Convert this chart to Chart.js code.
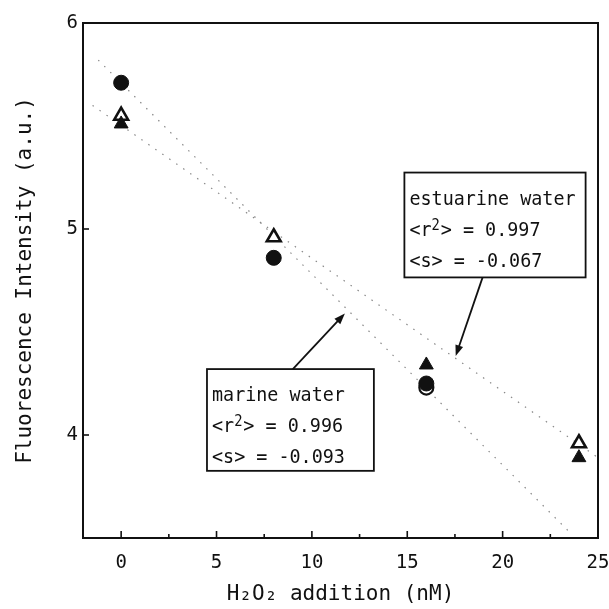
<!DOCTYPE html>
<html>
<head>
<meta charset="utf-8">
<script src="https://cdn.jsdelivr.net/npm/chart.js@4.4.1/dist/chart.umd.min.js"></script>
<style>
html, body { margin: 0; padding: 0; background: #fff; overflow: hidden; }
#wrap { position: relative; width: 609px; height: 609px; }
</style>
</head>
<body>
<div id="wrap"><canvas id="chart"></canvas></div>
<script>
// axis ticks
const xTicks = [0, 5, 10, 15, 20, 25];
const xMinorTicks = [2.5, 7.5, 12.5, 17.5, 22.5];
const yTicks = [4, 5, 6];

// marine water (circles)
const marineX = [0, 8, 16];
const marineFilled = [5.71, 4.86, 4.25];
const marineOpenX = [16];
const marineOpen = [4.23];

// estuarine water (triangles)
const estuarineOpenX = [0, 8, 24];
const estuarineOpen = [5.55, 4.96, 3.96];
const estuarineFilledX = [0, 16, 24];
const estuarineFilled = [5.51, 4.34, 3.89];

// regression lines
const marineFitX = [-1.2, 23.6];
const marineFit = [5.82, 3.52];
const estuarineFitX = [-1.5, 25];
const estuarineFit = [5.60, 3.89];

const FONT = "'DejaVu Sans Mono', monospace";

// text boxes (placed in data units)
const notes = [
    { lines: ["estuarine water", "<r\u00B2> = 0.997", "<s> = -0.067"],
      x0: 14.85, x1: 24.35, y0: 5.274, y1: 4.765,
      arrow: [18.95, 4.765, 17.54, 4.383] },
    { lines: ["marine water", "<r\u00B2> = 0.996", "<s> = -0.093"],
      x0: 4.5, x1: 13.25, y0: 4.32, y1: 3.826,
      arrow: [9.0, 4.32, 11.73, 4.59] }
];

const pts = (xs, ys) => xs.map((x, i) => ({ x: x, y: ys[i] }));

function drawArrow(ctx, x1, y1, x2, y2) {
    const a = Math.atan2(y2 - y1, x2 - x1);
    const len = 11, w = 4;
    ctx.beginPath();
    ctx.moveTo(x1, y1);
    ctx.lineTo(x2 - Math.cos(a) * len * 0.8, y2 - Math.sin(a) * len * 0.8);
    ctx.stroke();
    ctx.beginPath();
    ctx.moveTo(x2, y2);
    ctx.lineTo(x2 - Math.cos(a) * len - Math.sin(a) * w, y2 - Math.sin(a) * len + Math.cos(a) * w);
    ctx.lineTo(x2 - Math.cos(a) * len + Math.sin(a) * w, y2 - Math.sin(a) * len - Math.cos(a) * w);
    ctx.closePath();
    ctx.fill();
}

// narrow text with a raised "2" for the superscript
function drawNoteLine(ctx, s, x, y) {
    const sx = 0.92;
    ctx.save();
    ctx.translate(x, y);
    ctx.scale(sx, 1);
    let cx = 0;
    s.split(/(\u00B2)/).forEach(part => {
        if (!part) return;
        if (part === "\u00B2") {
            ctx.font = "15px " + FONT;
            ctx.fillText("2", cx, -6);
            cx += ctx.measureText("2").width + 1;
        } else {
            ctx.font = "20px " + FONT;
            ctx.fillText(part, cx, 0);
            cx += ctx.measureText(part).width;
        }
    });
    ctx.restore();
}

const framePlugin = {
    id: "frame",
    afterDatasetsDraw(chart) {
        const ctx = chart.ctx;
        const a = chart.chartArea;
        const xs = chart.scales.x, ys = chart.scales.y;
        ctx.save();
        ctx.strokeStyle = "#111";
        ctx.fillStyle = "#111";
        ctx.lineWidth = 2;
        ctx.strokeRect(a.left, a.top, a.right - a.left, a.bottom - a.top);

        // inward ticks
        ctx.lineWidth = 1.6;
        xTicks.forEach(v => {
            const px = xs.getPixelForValue(v);
            ctx.beginPath(); ctx.moveTo(px, a.bottom); ctx.lineTo(px, a.bottom - 7); ctx.stroke();
        });
        xMinorTicks.forEach(v => {
            const px = xs.getPixelForValue(v);
            ctx.beginPath(); ctx.moveTo(px, a.bottom); ctx.lineTo(px, a.bottom - 4); ctx.stroke();
        });
        yTicks.forEach(v => {
            const py = ys.getPixelForValue(v);
            ctx.beginPath(); ctx.moveTo(a.left, py); ctx.lineTo(a.left + 6, py); ctx.stroke();
        });

        // annotation boxes and arrows
        notes.forEach(n => {
            const l = xs.getPixelForValue(n.x0), r = xs.getPixelForValue(n.x1);
            const t = ys.getPixelForValue(n.y0), b = ys.getPixelForValue(n.y1);
            ctx.fillStyle = "#fff";
            ctx.fillRect(l, t, r - l, b - t);
            ctx.lineWidth = 1.8;
            ctx.strokeRect(l, t, r - l, b - t);
            ctx.fillStyle = "#111";
            ctx.textBaseline = "alphabetic";
            ctx.textAlign = "left";
            n.lines.forEach((s, i) => drawNoteLine(ctx, s, l + 5, t + 32 + i * 31));
            ctx.lineWidth = 1.8;
            drawArrow(ctx,
                xs.getPixelForValue(n.arrow[0]), ys.getPixelForValue(n.arrow[1]),
                xs.getPixelForValue(n.arrow[2]), ys.getPixelForValue(n.arrow[3]));
        });
        ctx.restore();
    }
};

new Chart(document.getElementById("chart").getContext("2d"), {
    type: "scatter",
    data: {
        datasets: [
            {
                label: "marine fit",
                data: pts(marineFitX, marineFit),
                showLine: true,
                borderColor: "#888",
                borderWidth: 1.2,
                borderDash: [1.5, 7],
                pointRadius: 0,
                order: 5
            },
            {
                label: "estuarine fit",
                data: pts(estuarineFitX, estuarineFit),
                showLine: true,
                borderColor: "#888",
                borderWidth: 1.2,
                borderDash: [1.5, 7],
                pointRadius: 0,
                order: 5
            },
            {
                label: "marine open",
                data: pts(marineOpenX, marineOpen),
                pointStyle: "circle",
                pointRadius: 7,
                backgroundColor: "#fff",
                borderColor: "#111",
                borderWidth: 2.2,
                order: 4
            },
            {
                label: "marine filled",
                data: pts(marineX, marineFilled),
                pointStyle: "circle",
                pointRadius: 7.5,
                backgroundColor: "#111",
                borderColor: "#111",
                borderWidth: 1,
                order: 3
            },
            {
                label: "estuarine open",
                data: pts(estuarineOpenX, estuarineOpen),
                pointStyle: "triangle",
                pointRadius: 8,
                backgroundColor: "#fff",
                borderColor: "#111",
                borderWidth: 2.6,
                order: 2
            },
            {
                label: "estuarine filled",
                data: pts(estuarineFilledX, estuarineFilled),
                pointStyle: "triangle",
                pointRadius: 8,
                backgroundColor: "#111",
                borderColor: "#111",
                borderWidth: 1,
                order: 1
            }
        ]
    },
    options: {
        responsive: true,
        maintainAspectRatio: false,
        animation: false,
        layout: { padding: { top: 23, right: 11, left: 0, bottom: 0 } },
        plugins: {
            legend: { display: false },
            tooltip: { enabled: false }
        },
        scales: {
            x: {
                type: "linear",
                min: -2,
                max: 25,
                afterFit: s => { s.height = 71; s.paddingLeft = 0; s.paddingRight = 0; },
                afterBuildTicks: s => { s.ticks = xTicks.map(v => ({ value: v })); },
                grid: { display: false, drawTicks: false },
                border: { display: false },
                ticks: { color: "#111", padding: 14, maxRotation: 0, font: { family: FONT, size: 19 } },
                title: {
                    display: true,
                    text: "H\u2082O\u2082 addition (nM)",
                    color: "#111",
                    font: { family: FONT, size: 21 },
                    padding: { top: 0, bottom: 2 }
                }
            },
            y: {
                type: "linear",
                min: 3.5,
                max: 6,
                afterFit: s => { s.width = 83; s.paddingTop = 0; s.paddingBottom = 0; },
                afterBuildTicks: s => { s.ticks = yTicks.map(v => ({ value: v })); },
                grid: { display: false, drawTicks: false },
                border: { display: false },
                ticks: { color: "#111", padding: 5, font: { family: FONT, size: 19 } },
                title: {
                    display: true,
                    text: "Fluorescence Intensity (a.u.)",
                    color: "#111",
                    font: { family: FONT, size: 21 },
                    padding: { top: 13, bottom: 0 }
                }
            }
        }
    },
    plugins: [framePlugin]
});
</script>
</body>
</html>
